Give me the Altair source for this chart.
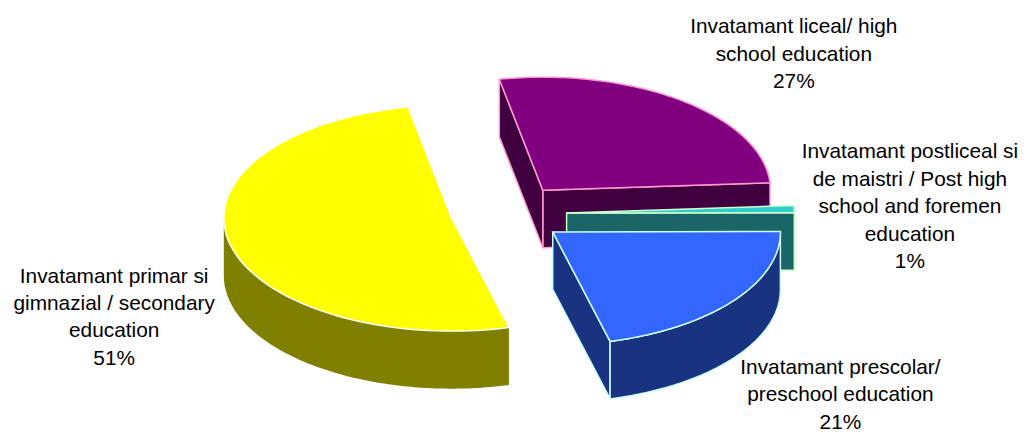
import math
import altair as alt

# --- chart values ---
shares = [51, 21, 1, 27]
labels = [
    ["Invatamant primar si", "gimnazial / secondary", "education"],
    ["Invatamant prescolar/", "preschool education"],
    ["Invatamant postliceal si", "de maistri / Post high", "school and foremen", "education"],
    ["Invatamant liceal/ high", "school education"],
]
top_colors = ["#FFFF00", "#3366FF", "#33CCCC", "#800080"]
wall_colors = ["#808000", "#1A3380", "#1A6666", "#400040"]
edge_colors = ["#FFFFFF", "#CCFFFF", "#CCFFCC", "#FF99CC"]

# --- layout ---
M = 8
FIRST_ANGLE = 101.0
A, B, DEPTH = 229.5, 114.0, 58.0
centers = [(455, 218), (557, 232), (571, 213), (547, 190)]
label_pos = [(115, 277), (847, 369), (917, 152), (800, 26)]
LINE = 27.7
draw_order = [3, 2, 1, 0]


def pt(c, t, dz=0.0):
    r = math.radians(t)
    return [c[0] + A * math.cos(r) - M, c[1] - B * math.sin(r) + dz - M]


def arc(c, t0, t1, dz=0.0, n=90):
    return [pt(c, t0 + (t1 - t0) * i / n, dz) for i in range(n + 1)]


def feat(ring, fill, stroke, width):
    ring = ring + [ring[0]]
    return {
        "type": "Feature",
        "geometry": {"type": "Polygon", "coordinates": [ring]},
        "properties": {"fill": fill, "stroke": stroke, "sw": width},
    }


starts = {}
a = FIRST_ANGLE
for i, s in enumerate(shares):
    starts[i] = (a, a + s * 3.6)
    a += s * 3.6

features = []
for i in draw_order:
    c = centers[i]
    t0, t1 = starts[i]
    apex = [c[0] - M, c[1] - M]
    apex_d = [c[0] - M, c[1] - M + DEPTH]
    edge = "none" if i == 0 else edge_colors[i]
    w = wall_colors[i]
    # a radial wall shows only when the drop of the slab falls outside the wedge
    if not (90 < t0 % 360 < 270):
        features.append(feat([apex, pt(c, t0), pt(c, t0, DEPTH), apex_d], w, edge, 1.5))
    if 90 < t1 % 360 < 270:
        features.append(feat([apex, pt(c, t1), pt(c, t1, DEPTH), apex_d], w, edge, 1.5))
    # the rim shows only along the front half of the ellipse
    lo, hi = max(t0, 180), min(t1, 360)
    if hi > lo:
        features.append(feat(arc(c, lo, hi) + arc(c, hi, lo, DEPTH), w, edge, 1.5))
    features.append(feat([apex] + arc(c, t0, t1), top_colors[i], edge_colors[i], 1.5))

pie = (
    alt.Chart(alt.Data(values=features))
    .mark_geoshape(strokeJoin="miter")
    .encode(
        fill=alt.Fill("properties.fill:N", scale=None),
        stroke=alt.Stroke("properties.stroke:N", scale=None),
        strokeWidth=alt.StrokeWidth("properties.sw:Q", scale=None),
    )
    .project(type="identity", scale=1, translate=[0, 0])
)

rows = []
for lab, s, p in zip(labels, shares, label_pos):
    for k, line in enumerate(lab + [f"{s}%"]):
        rows.append({"t": line, "px": p[0] - M, "py": p[1] + k * LINE - M})

text = (
    alt.Chart(alt.Data(values=rows))
    .mark_text(font="Liberation Sans", fontSize=21, color="#000000", align="center", baseline="middle")
    .encode(
        x=alt.X("px:Q", scale=None, axis=None),
        y=alt.Y("py:Q", scale=None, axis=None),
        text="t:N",
    )
)

chart = (
    alt.layer(pie, text)
    .properties(width=1023, height=424, padding=0, autosize=alt.AutoSizeParams(type="none"))
    .configure_view(stroke=None)
)
chart.save("out.html", embed_options={"renderer": "svg", "actions": False})
